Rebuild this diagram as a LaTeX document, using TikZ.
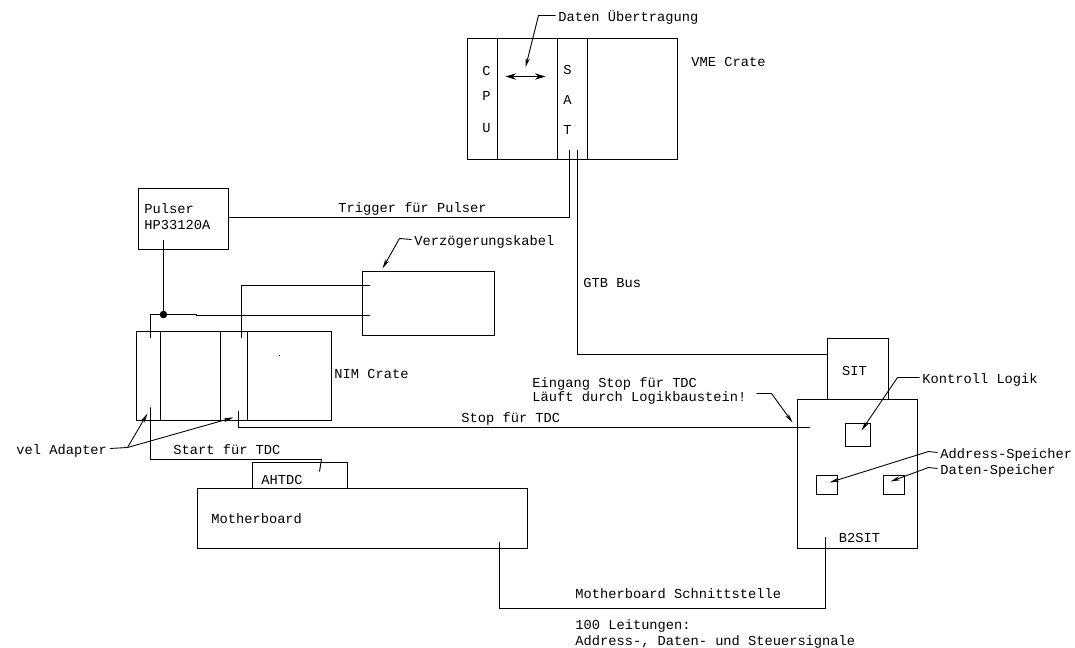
\documentclass[tikz,border=0pt]{standalone}
\usepackage{fontspec}
\setmainfont{Liberation Mono}
\usetikzlibrary{arrows.meta, positioning, calc}

\begin{document}
\begin{tikzpicture}[
  x=0.02cm, y=-0.02cm,
  >={Stealth[length=5.5pt,width=2.4pt]},
  wire/.style={draw, line width=0.55pt},
  lead/.style={draw, line width=0.5pt, ->},
  frame/.style={draw, line width=0.55pt, inner sep=0pt, outer sep=0pt, anchor=north west},
  lbl/.style={font=\fontsize{7.8}{9}\selectfont, inner sep=1.5pt, anchor=west, text height=7.5pt, text depth=0.8pt}
  ]
  \useasboundingbox (0,0) rectangle (1075,648);
  \fill[white] (0,0) rectangle (1075,648);

  \begin{scope}[shift={(0.5,0.5)}]
  % VME
  \node[frame, minimum width=4.2cm, minimum height=2.42cm] (vme) at (467,38) {};
  \draw[wire] ([xshift=0.6cm]vme.north west) -- ([xshift=0.6cm]vme.south west);
  \draw[wire] ([xshift=1.8cm]vme.north west) -- ([xshift=1.8cm]vme.south west);
  \draw[wire] ([xshift=2.4cm]vme.north west) -- ([xshift=2.4cm]vme.south west);
  \node[lbl, anchor=center] (c) at (486,69) {C};
  \node[lbl, anchor=center] (p) at (486,94) {P};
  \node[lbl, anchor=center] (u) at (486,126) {U};
  \node[lbl, anchor=center] (s) at (567,68) {S};
  \node[lbl, anchor=center] (a) at (567,98) {A};
  \node[lbl, anchor=center] (t) at (567,128) {T};
  \node[lbl] (vmetxt) at (688,60) {VME Crate};
  \node[lbl] (datentxt) at (555,15) {Daten Übertragung};
  \coordinate (dl) at (505,76);
  \coordinate (dr) at (545,76);
  \coordinate (dbend) at (538,15);
  \coordinate (dtip) at (525,67);
  \draw[wire, {Stealth[length=6pt,width=3.6pt]}-{Stealth[length=6pt,width=3.6pt]}] (dl) -- (dr);
  \draw[lead] (datentxt.west) -- (dbend) -- (dtip);

  % Pulser
  \node[frame, minimum width=1.8cm, minimum height=1.22cm] (pulser) at (138,188) {};
  \node[lbl] (pulsertxt) at (141,207) {Pulser};
  \node[lbl] (hptxt) at (141,223) {HP33120A};
  \node[lbl] (triggertxt) at (335,206) {Trigger für Pulser};
  \coordinate (trigin) at (569,150);
  \coordinate (trigbend) at (569,217);
  \coordinate (trigout) at (228,217);
  \draw[wire] (trigin) -- (trigbend) -- (trigout);

  % Kabel
  \node[frame, minimum width=2.64cm, minimum height=1.28cm] (kabel) at (362,271) {};
  \node[lbl] (kabeltxt) at (411,239) {Verzögerungskabel};
  \coordinate (kbend) at (399,238);
  \coordinate (ktip) at (382,268);
  \draw[lead] (kabeltxt.west) -- (kbend) -- (ktip);

  % NIM
  \node[frame, minimum width=3.9cm, minimum height=1.78cm] (nim) at (136,331) {};
  \draw[wire] ([xshift=0.48cm]nim.north west) -- ([xshift=0.48cm]nim.south west);
  \draw[wire] ([xshift=1.68cm]nim.north west) -- ([xshift=1.68cm]nim.south west);
  \draw[wire] ([xshift=2.22cm]nim.north west) -- ([xshift=2.22cm]nim.south west);
  \node[lbl] (nimtxt) at (331,372) {NIM Crate};
  \fill (279,355) circle (0.4pt);

  % Pulser to NIM and Kabel
  \coordinate (pout) at (163,240);
  \coordinate (junction) at (163,314);
  \coordinate (nimA) at (150,338);
  \coordinate (nimAb) at (150,314);
  \coordinate (nimB) at (241,338);
  \coordinate (nimBb) at (241,285);
  \coordinate (kabA) at (369,285);
  \coordinate (kabB) at (369,315);
  \draw[wire] (pout) -- (junction);
  \draw[wire] (nimA) -- (nimAb) -- (junction) -- (196,314) -- (196,315) -- (kabB);
  \draw[wire] (nimB) -- (nimBb) -- (kabA);
  \fill (junction) circle (3.8);

  % Start und Stop
  \coordinate (startA) at (150,407);
  \coordinate (startB) at (150,459);
  \coordinate (startC) at (321,459);
  \coordinate (startD) at (319,471);
  \draw[wire] (startA) -- (startB) -- (startC) -- (startD);
  \node[lbl] (starttxt) at (170,448) {Start für TDC};
  \coordinate (stopA) at (238,411);
  \coordinate (stopB) at (238,427);
  \coordinate (stopC) at (809,427);
  \draw[wire] (stopA) -- (stopB) -- (stopC);
  \node[lbl] (stoptxt) at (458,416) {Stop für TDC};
  \node[lbl] (adaptertxt) at (13,448) {vel Adapter};
  \coordinate (abend) at (127,447);
  \coordinate (atipA) at (147,413);
  \coordinate (atipB) at (233,417);
  \draw[lead] (adaptertxt.east) -- (abend) -- (atipA);
  \draw[lead] (abend) -- (atipB);

  % Motherboard
  \node[frame, minimum width=6.6cm, minimum height=1.2cm] (mother) at (197,488) {};
  \node[frame, minimum width=1.9cm, minimum height=0.52cm] (ahtdc) at (252,462) {};
  \node[lbl] (ahtdctxt) at (258,478) {AHTDC};
  \node[lbl] (mothertxt) at (208,517) {Motherboard};

  % SIT und B2SIT
  \node[frame, minimum width=1.22cm, minimum height=1.22cm] (sit) at (827,338) {};
  \node[frame, minimum width=2.4cm, minimum height=2.98cm] (b2sit) at (797,399) {};
  \node[lbl, anchor=center] (sittxt) at (854,369) {SIT};
  \node[lbl, anchor=center] (b2sittxt) at (859,536) {B2SIT};
  \node[lbl] (gtbtxt) at (580,281) {GTB Bus};
  \coordinate (gtbin) at (577,150);
  \coordinate (gtbbend) at (577,354);
  \coordinate (gtbout) at (827,354);
  \draw[wire] (gtbin) -- (gtbbend) -- (gtbout);

  \node[frame, minimum width=0.5cm, minimum height=0.46cm] (kontroll) at (845,423) {};
  \node[frame, minimum width=0.42cm, minimum height=0.38cm] (addr) at (816,475) {};
  \node[frame, minimum width=0.42cm, minimum height=0.38cm] (datenbox) at (883,475) {};
  \node[lbl] (kontrolltxt) at (919,377) {Kontroll Logik};
  \node[lbl] (addrtxt) at (937,452) {Address-Speicher};
  \node[lbl] (datentxtb) at (937,468) {Daten-Speicher};
  \coordinate (kbendb) at (897,377);
  \coordinate (ktipb) at (861,430);
  \coordinate (abendb) at (928,451);
  \coordinate (atipb) at (829,482);
  \coordinate (dbendb) at (928,467);
  \coordinate (dtipb) at (890,481);
  \draw[lead] (kontrolltxt.west) -- (kbendb) -- (ktipb);
  \draw[lead] (addrtxt.west) -- (abendb) -- (atipb);
  \draw[lead] (datentxtb.west) -- (dbendb) -- (dtipb);

  \node[lbl] (eingangtxt) at (529,381) {Eingang Stop für TDC};
  \node[lbl] (lauftxt) at (529,395) {Läuft durch Logikbaustein!};
  \coordinate (lstart) at (756,393);
  \coordinate (lbend) at (771,393);
  \coordinate (ltip) at (792,422);
  \draw[lead] (lstart) -- (lbend) -- (ltip);

  % Schnittstelle
  \coordinate (msA) at (499,541);
  \coordinate (msB) at (499,608);
  \coordinate (msC) at (825,608);
  \coordinate (msD) at (825,536);
  \draw[wire] (msA) -- (msB) -- (msC) -- (msD);
  \node[lbl] (schnitttxt) at (572,592) {Motherboard Schnittstelle};
  \node[lbl] (leittxt) at (572,623) {100 Leitungen:};
  \node[lbl] (signaltxt) at (572,639) {Address-, Daten- und Steuersignale};
  \end{scope}
\end{tikzpicture}
\end{document}
